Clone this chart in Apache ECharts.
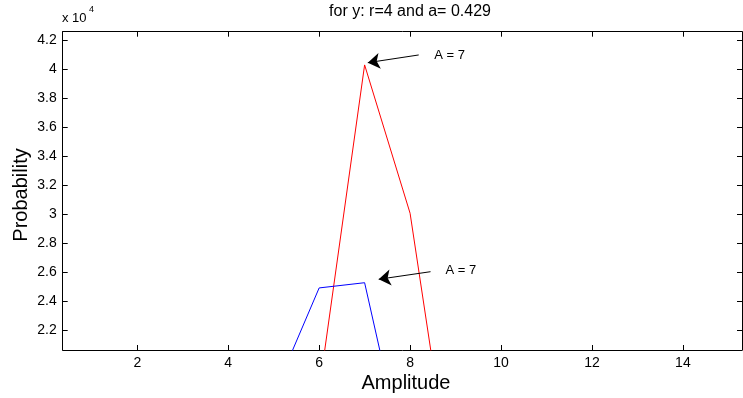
<!DOCTYPE html>
<html>
<head>
<meta charset="utf-8">
<script src="https://cdn.jsdelivr.net/npm/echarts@6/dist/echarts.min.js"></script>
<style>
  html, body { margin: 0; padding: 0; background: #fff; }
  #chart { width: 743px; height: 398px; }
</style>
</head>
<body>
<div id="chart"></div>
<script>
// amplitude values and the two probability curves (raw units, axis shows x 10^4)
const redX = [6, 7, 8, 9];
const redY = [17860, 40280, 30050, 9300];
const blueX = [5, 6, 7, 8];
const blueY = [17550, 24900, 25260, 11330];

const xTicks = [2, 4, 6, 8, 10, 12, 14];
const yTicks = [22000, 24000, 26000, 28000, 30000, 32000, 34000, 36000, 38000, 40000, 42000];

const font = 'Liberation Sans, Arial, sans-serif';

const chart = echarts.init(document.getElementById('chart'));

// box axes: matlab style ticks pointing inwards on all four sides
function xAxis(pos, showLabel) {
    return {
        type: 'value',
        position: pos,
        min: 0.36,
        max: 15.3,
        axisLine: { show: true, onZero: false, lineStyle: { color: '#000', width: 1 } },
        axisTick: { show: true, inside: true, length: 5, customValues: xTicks, lineStyle: { color: '#000' } },
        axisLabel: { show: showLabel, customValues: xTicks, color: '#000', fontFamily: font, fontSize: 14, margin: 6 },
        splitLine: { show: false }
    }
}
function yAxis(pos, showLabel) {
    return {
        type: 'value',
        position: pos,
        min: 20620,
        max: 42570,
        axisLine: { show: true, onZero: false, lineStyle: { color: '#000', width: 1 } },
        axisTick: { show: true, inside: true, length: 5, customValues: yTicks, lineStyle: { color: '#000' } },
        axisLabel: {
            show: showLabel,
            customValues: yTicks,
            color: '#000',
            fontFamily: font,
            fontSize: 14,
            margin: 6,
            formatter: v => String(+(v / 1e4).toFixed(1))
        },
        splitLine: { show: false }
    }
}

// "A = 7" arrow + label, placed in data coordinates
function note(from, to, textAt) {
    return {
        markLine: {
            silent: true,
            symbol: ['none', 'arrow'],
            symbolSize: 12,
            lineStyle: { color: '#000', width: 1, type: 'solid' },
            label: { show: false },
            data: [[{ coord: from }, { coord: to }]]
        },
        markPoint: {
            symbol: 'circle',
            symbolSize: 0,
            label: { show: true, position: 'right', distance: 0, formatter: 'A = 7', color: '#000', fontFamily: font, fontSize: 13 },
            data: [{ coord: textAt }]
        }
    }
}

chart.setOption({
    animation: false,
    backgroundColor: '#fff',
    grid: { left: 62.7, right: 1, top: 31.7, bottom: 48 },
    xAxis: [xAxis('bottom', true), xAxis('top', false)],
    yAxis: [yAxis('left', true), yAxis('right', false)],
    graphic: [
        { type: 'text', x: 410, y: 4, style: { text: 'for y: r=4 and a= 0.429', font: '16px ' + font, fill: '#000', align: 'center' } },
        { type: 'text', x: 62, y: 12, style: { text: 'x 10', font: '13px ' + font, fill: '#000' } },
        { type: 'text', x: 89, y: 5, style: { text: '4', font: '9px ' + font, fill: '#000' } },
        { type: 'text', x: 406, y: 373, style: { text: 'Amplitude', font: '20px ' + font, fill: '#000', align: 'center' } },
        { type: 'text', x: 11, y: 195, rotation: Math.PI / 2, style: { text: 'Probability', font: '20px ' + font, fill: '#000', align: 'center' } }
    ],
    series: [
        Object.assign({
            type: 'line',
            data: redX.map((x, i) => [x, redY[i]]),
            symbol: 'none',
            lineStyle: { color: '#ff0000', width: 1 },
            clip: true
        }, note([8.19, 40966], [7.07, 40434], [8.53, 40966])),
        Object.assign({
            type: 'line',
            data: blueX.map((x, i) => [x, blueY[i]]),
            symbol: 'none',
            lineStyle: { color: '#0000ff', width: 1 },
            clip: true
        }, note([8.45, 26020], [7.31, 25497], [8.78, 26090]))
    ]
});
</script>
</body>
</html>
